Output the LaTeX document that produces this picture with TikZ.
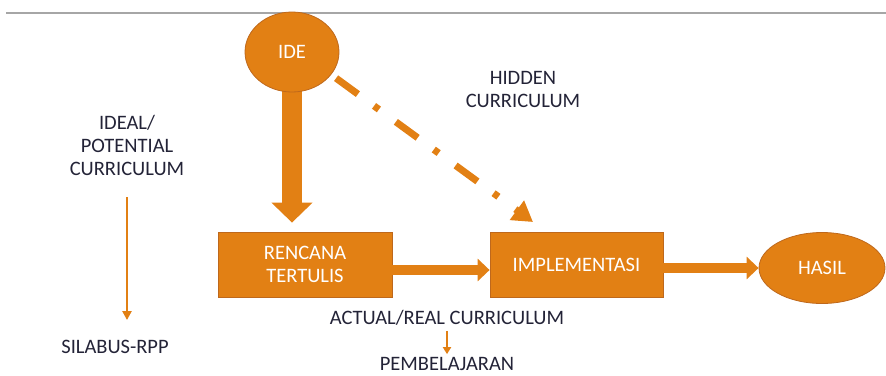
\documentclass[tikz,border=0pt]{standalone}
\usepackage{fontspec}
\setmainfont{Carlito}
\usetikzlibrary{arrows.meta,shapes.geometric,backgrounds}
\definecolor{org}{RGB}{226,128,20}
\definecolor{orgd}{RGB}{190,104,28}
\definecolor{txt}{RGB}{35,35,55}
\begin{document}
\begin{tikzpicture}[x=1pt,y=-1pt,font=\fontsize{20.5}{23}\selectfont,
  box/.style={draw=orgd,fill=org,line width=0.8pt,text=white,align=center,inner sep=0pt},
  oval/.style={ellipse,draw=orgd,fill=org,line width=0.8pt,text=white,inner sep=0pt},
  lbl/.style={text=txt,align=center,inner sep=0pt},
  blk/.style={org,line width=#1},
  ]
\useasboundingbox (0,0) rectangle (886,375);
\draw[black!35,line width=1.6pt] (6,13) -- (886,13);
% nodes
\node[oval,minimum width=94pt,minimum height=80pt] (ide) at (292,52) {IDE};
\node[box,minimum width=174pt,minimum height=65pt] (ren) at (305,264.5) {RENCANA\\TERTULIS};
\node[box,minimum width=173pt,minimum height=65pt] (imp) at (576.5,264.5) {IMPLEMENTASI};
\node[oval,minimum width=126pt,minimum height=71pt] (has) at (822,268) {HASIL};
\node[lbl] (hid) at (523,89) {HIDDEN\\CURRICULUM};
\node[lbl] (ideal) at (127,145) {IDEAL/\\POTENTIAL\\CURRICULUM};
\node[lbl] (sil) at (115,347) {SILABUS-RPP};
\node[lbl] (act) at (447,318) {ACTUAL/REAL CURRICULUM};
\node[lbl] (pem) at (447,364) {PEMBELAJARAN};
\coordinate (hidtip) at (533,222);
% connectors
\begin{scope}[on background layer]
\draw[blk=20pt,-{Triangle[length=20pt 0 0,width=40pt 0 0]},shorten >=9pt]
  (ide.center) -- (ide.center |- ren.north);
\end{scope}
\draw[blk=10pt,-{Triangle[length=12pt 0 0,width=22pt 0 0]}]
  ([yshift=-5.5pt]ren.east) -- ([yshift=-5.5pt]imp.west);
\draw[blk=10pt,-{Triangle[length=12pt 0 0,width=22pt 0 0]}]
  (imp.east |- has.west) -- (has.west);
\draw[blk=7pt,dash pattern=on 27pt off 20pt on 6pt off 21pt,
  -{Triangle[length=20pt 0 0,width=23pt 0 0]},shorten <=6pt]
  (ide.-30) -- (hidtip);
\draw[blk=2.5pt,-{Triangle[length=9pt 0 0,width=9pt 0 0]},shorten <=22pt,shorten >=20pt]
  (ideal.south) -- (ideal.south |- sil.north);
\draw[blk=2pt,-{Triangle[length=7pt 0 0,width=8pt 0 0]},shorten <=5pt,shorten >=3pt]
  (act.south) -- (pem.north);
\end{tikzpicture}
\end{document}
